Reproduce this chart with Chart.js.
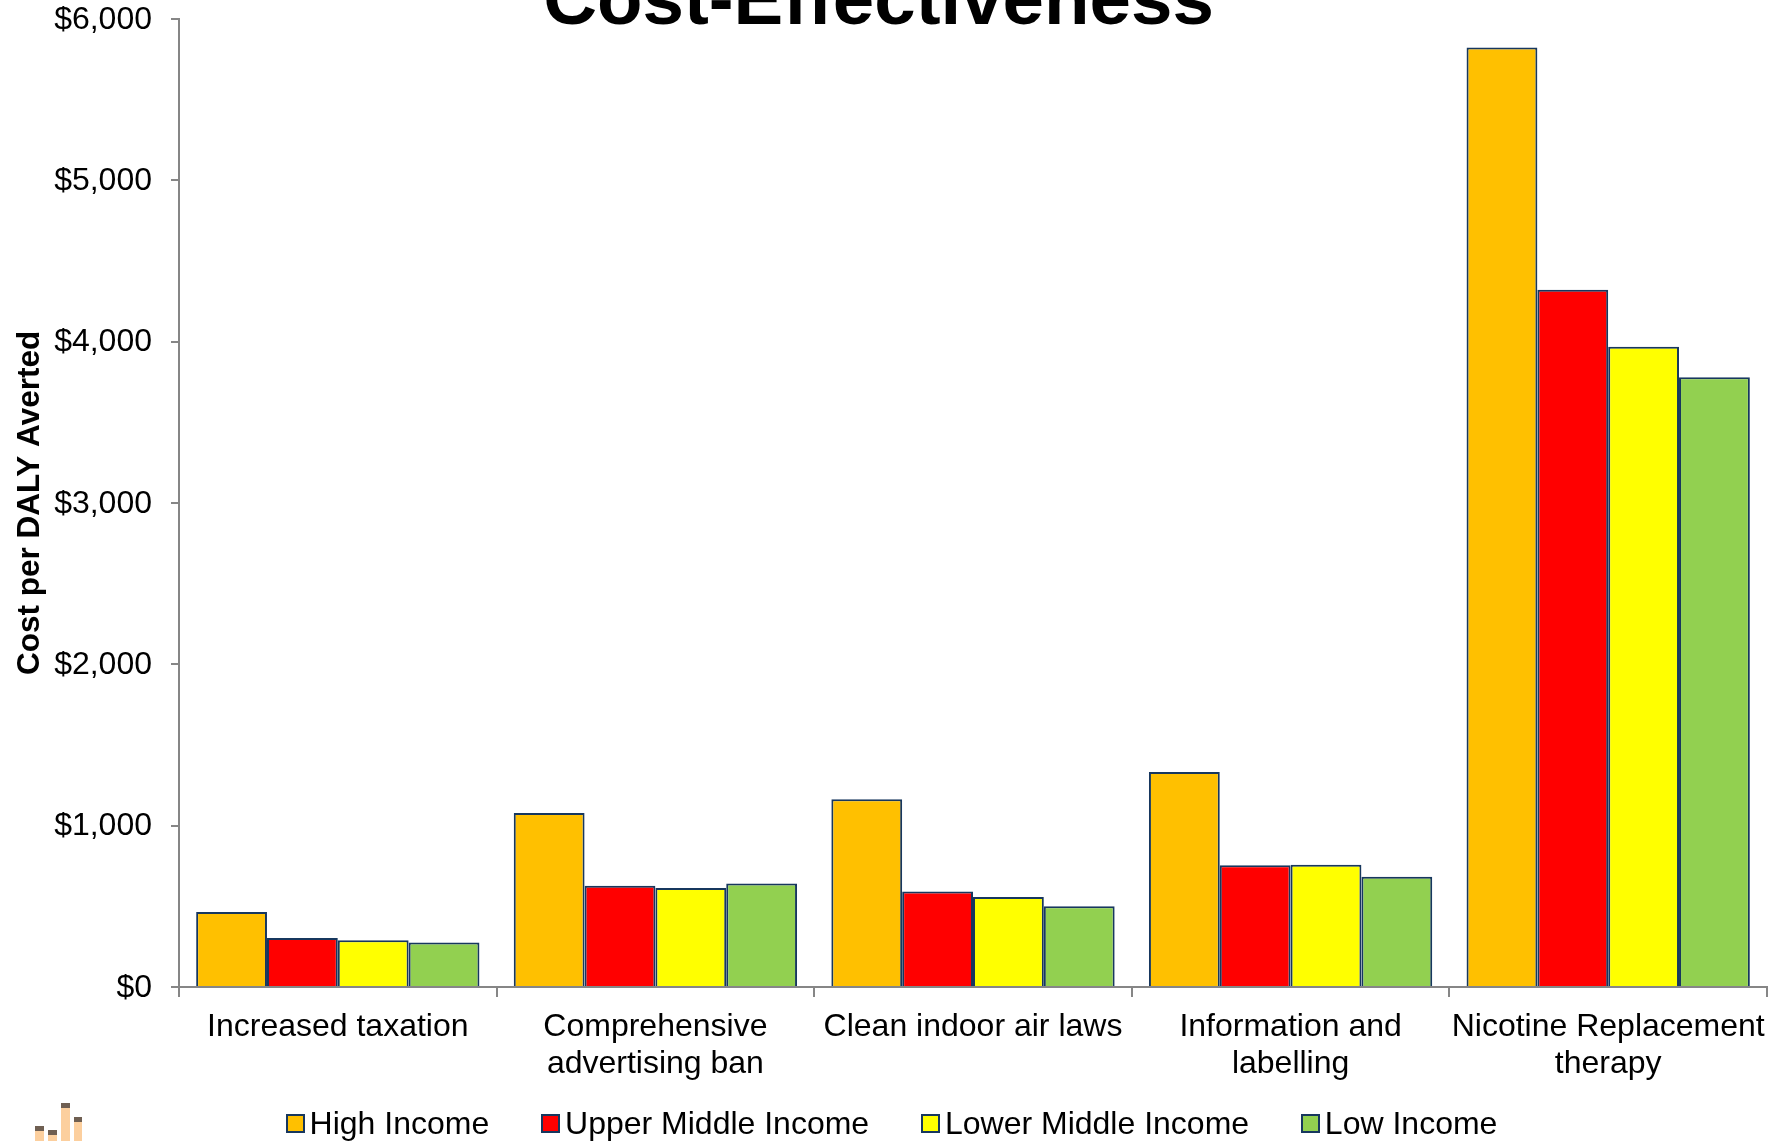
<!DOCTYPE html>
<html>
<head>
<meta charset="utf-8">
<title>Cost-Effectiveness</title>
<script src="https://cdn.jsdelivr.net/npm/chart.js@4"></script>
<style>
    html, body { margin: 0; padding: 0; background: #fff; overflow: hidden; }
    #wrap { position: relative; width: 1783px; height: 1141px; overflow: hidden; font-family: "Liberation Sans", Arial, sans-serif; color: #000; }
    #grafico { position: absolute; left: 0; top: 0; }
    #titulo { position: absolute; left: 0; width: 1757px; top: -38px; text-align: center; font-size: 74.5px; font-weight: bold; line-height: 74px; }
    #leyenda { position: absolute; left: 0; top: 1104px; width: 1783px; display: flex; justify-content: center; font-size: 32px; line-height: 38px; }
    #leyenda div { display: flex; align-items: center; margin: 0 25.9px; white-space: nowrap; }
    #leyenda span { display: inline-block; width: 15px; height: 15px; border: 2px solid #17375e; margin-right: 5px; }
    #logo { position: absolute; left: 35px; top: 1103px; }
</style>
</head>
<body>
<div id="wrap">
    <canvas id="grafico" width="1783" height="1141"></canvas>
    <div id="titulo">Cost-Effectiveness</div>
    <div id="leyenda"></div>
    <svg id="logo" width="48" height="38">
        <rect x="0" y="23" width="9" height="15" fill="#fccf9e"/><rect x="0" y="23" width="9" height="5" fill="#6f5f52"/>
        <rect x="13" y="27" width="9" height="11" fill="#fccf9e"/><rect x="13" y="27" width="9" height="5" fill="#6f5f52"/>
        <rect x="26" y="0" width="9" height="38" fill="#fccf9e"/><rect x="26" y="0" width="9" height="5" fill="#6f5f52"/>
        <rect x="39" y="14" width="8" height="24" fill="#fccf9e"/><rect x="39" y="14" width="8" height="5" fill="#6f5f52"/>
    </svg>
</div>
<script>
const categorias = [
    'Increased taxation',
    ['Comprehensive', 'advertising ban'],
    'Clean indoor air laws',
    ['Information and', 'labelling'],
    ['Nicotine Replacement', 'therapy']
];
const altos = [465, 1079, 1164, 1333, 5822];
const mediosAltos = [303, 628, 592, 754, 4321];
const mediosBajos = [289, 613, 557, 757, 3968];
const bajos = [275, 641, 500, 684, 3778];

const series = ['High Income', 'Upper Middle Income', 'Lower Middle Income', 'Low Income'];
const colores = ['#ffc000', '#ff0000', '#ffff00', '#92d050'];
const valores = [altos, mediosAltos, mediosBajos, bajos];

const borde = '#17375e';
const gris = '#868686';
const fuente = '"Liberation Sans", Arial, sans-serif';

let ctx = document.getElementById('grafico').getContext('2d');
let grafico = new Chart(ctx, {
    type: 'bar',
    data: {
        labels: categorias,
        datasets: series.map(function (nombre, i) {
            return {
                label: nombre,
                data: valores[i],
                backgroundColor: colores[i],
                borderColor: borde,
                borderWidth: 2,
                barPercentage: 1,
                categoryPercentage: 0.892
            };
        })
    },
    options: {
        responsive: false,
        animation: false,
        layout: { padding: { top: 0, right: 16 } },
        plugins: { legend: { display: false }, tooltip: { enabled: false } },
        scales: {
            x: {
                afterFit: function (escala) { escala.height = 154; },
                border: { color: gris, width: 2 },
                grid: { drawOnChartArea: false, color: gris, lineWidth: 2, tickLength: 10 },
                ticks: { color: '#000', font: { family: fuente, size: 32, lineHeight: 1.14 }, padding: 12, maxRotation: 0, autoSkip: false }
            },
            y: {
                min: 0,
                max: 6000,
                afterFit: function (escala) {
                    escala.width = 179;
                    escala.paddingTop = 18.8; // ticks.padding lo infla si no
                },
                border: { color: gris, width: 2 },
                grid: { drawOnChartArea: false, color: gris, lineWidth: 2, tickLength: 8 },
                ticks: {
                    stepSize: 1000,
                    color: '#000',
                    font: { family: fuente, size: 32 },
                    padding: 19,
                    labelOffset: 1,
                    callback: function (valor) { return '$' + valor.toLocaleString('en-US'); }
                },
                title: {
                    display: true,
                    text: 'Cost per DALY Averted',
                    color: '#000',
                    font: { family: fuente, size: 31.5, weight: 'bold' },
                    padding: { top: 11, bottom: 0 }
                }
            }
        }
    }
});

// leyenda en HTML, sacada de los datasets
grafico.data.datasets.forEach(function (d) {
    let item = document.createElement('div');
    let caja = document.createElement('span');
    caja.style.background = d.backgroundColor;
    item.appendChild(caja);
    item.appendChild(document.createTextNode(d.label));
    document.getElementById('leyenda').appendChild(item);
});
</script>
</body>
</html>
